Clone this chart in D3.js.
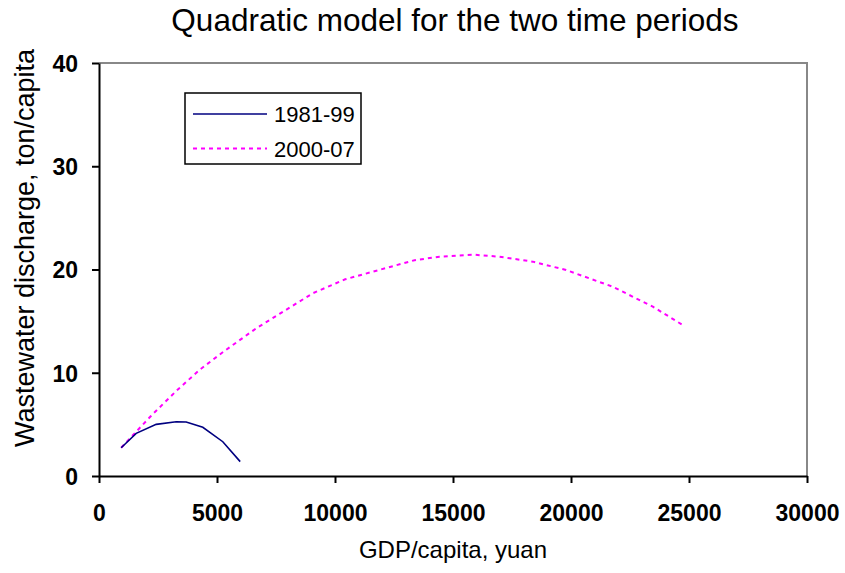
<!DOCTYPE html>
<html><head><meta charset="utf-8">
<script src="https://cdn.jsdelivr.net/npm/d3@7"></script>
<style>body{margin:0;background:#fff}svg{display:block}text{font-family:"Liberation Sans",Arial,sans-serif}</style>
</head><body><svg id="c" width="845" height="573"></svg>
<script>
const titleText = "Quadratic model for the two time periods";
const xTitle = "GDP/capita, yuan";
const yTitle = "Wastewater discharge, ton/capita";
const seriesNames = ["1981-99", "2000-07"];
const xTicks = [0, 5000, 10000, 15000, 20000, 25000, 30000];
const yTicks = [0, 10, 20, 30, 40];
const gdp8199 = [940, 1576, 2424, 3271, 3695, 4398, 5246, 5983];
const ww8199 = [2.74, 4.13, 5.0, 5.26, 5.23, 4.72, 3.32, 1.39];
const gdp0007 = [940, 2212, 3271, 4258, 5275, 6661, 7648, 8708, 9060, 10432, 13369, 14428, 15843, 16970, 18381, 19794, 21771, 23466, 24737];
const ww0007 = [2.74, 5.84, 8.23, 10.27, 12.04, 14.3, 15.7, 17.2, 17.7, 19.05, 20.9, 21.24, 21.44, 21.24, 20.76, 19.95, 18.33, 16.4, 14.62];

const svg = d3.select("#c");
const L = 99, R = 807, T = 63, B = 476;
const x = d3.scaleLinear().domain([0, 30000]).range([L, R]);
const y = d3.scaleLinear().domain([0, 40]).range([B, T]);

// plot border (top/right grey)
svg.append("path").attr("d", `M${L},${T}H${R}V${B}`).attr("fill", "none").attr("stroke", "#888").attr("stroke-width", 2);

const xa = svg.append("g").attr("transform", `translate(0,${B})`)
  .call(d3.axisBottom(x).tickValues(xTicks).tickFormat(d3.format("d")).tickSizeInner(7).tickSizeOuter(0).tickPadding(22));
const ya = svg.append("g").attr("transform", `translate(${L},0)`)
  .call(d3.axisLeft(y).tickValues(yTicks).tickSizeInner(7).tickSizeOuter(0).tickPadding(14));
[xa, ya].forEach(a => {
  a.select(".domain").attr("stroke", "#000").attr("stroke-width", 2);
  a.selectAll(".tick line").attr("stroke", "#000").attr("stroke-width", 2);
  a.selectAll("text").attr("font-size", 23).attr("font-weight", "bold").attr("fill", "#000")
    .style("font-family", '"Liberation Sans",Arial,sans-serif');
});
ya.selectAll("text").attr("dy", "0.36em");

const line = d3.line().x(d => x(d[0])).y(d => y(d[1]));
svg.append("path").datum(d3.zip(gdp0007, ww0007)).attr("d", line)
  .attr("fill", "none").attr("stroke", "#FF00FF").attr("stroke-width", 2).attr("stroke-dasharray", "4,4");
svg.append("path").datum(d3.zip(gdp8199, ww8199)).attr("d", line)
  .attr("fill", "none").attr("stroke", "#000080").attr("stroke-width", 1.6);

svg.append("text").attr("x", 455).attr("y", 31).attr("text-anchor", "middle").attr("font-size", 31.5).text(titleText);
svg.append("text").attr("x", 453).attr("y", 558).attr("text-anchor", "middle").attr("font-size", 24).text(xTitle);
svg.append("text").attr("transform", "translate(34,248) rotate(-90)").attr("text-anchor", "middle").attr("font-size", 27).text(yTitle);

// legend
const lg = svg.append("g");
lg.append("rect").attr("x", 185).attr("y", 93).attr("width", 176).attr("height", 71)
  .attr("fill", "#fff").attr("stroke", "#000").attr("stroke-width", 1.5);
const styles = [{c: "#000080", w: 1.4, d: null}, {c: "#FF00FF", w: 2, d: "4,4"}];
seriesNames.forEach((n, i) => {
  const yy = 114 + i * 34.5;
  lg.append("line").attr("x1", 193).attr("x2", 267).attr("y1", yy).attr("y2", yy)
    .attr("stroke", styles[i].c).attr("stroke-width", styles[i].w).attr("stroke-dasharray", styles[i].d);
  lg.append("text").attr("x", 274).attr("y", yy + 8).attr("font-size", 22).text(n);
});
</script></body></html>
